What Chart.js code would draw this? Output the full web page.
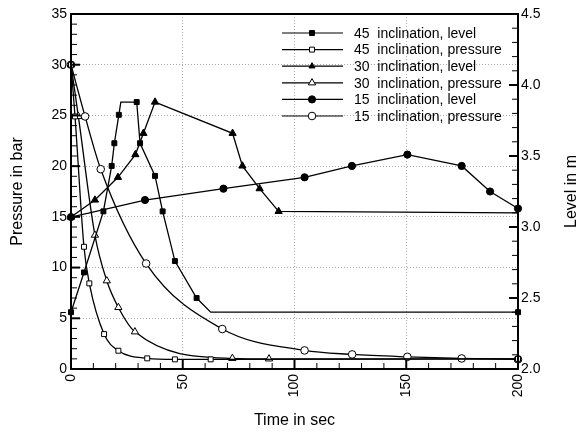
<!DOCTYPE html>
<html>
<head>
<meta charset="utf-8">
<script src="https://cdn.jsdelivr.net/npm/chart.js@4.4.0/dist/chart.umd.min.js"></script>
<style>
  html, body { margin: 0; padding: 0; background: #fff; }
  canvas { display: block; }
</style>
</head>
<body>
<canvas id="grafico" width="581" height="432"></canvas>
<script>
// Valores (tiempo en s, nivel en m, presión en bar)
const t45Nivel = [0, 5.8, 14.5, 18.2, 19.4, 21.4, 22.3, 29.4, 30.9, 37.6, 41, 46.5, 56.2, 62.5, 200];
const nivel45  = [2.40, 2.68, 3.11, 3.43, 3.59, 3.79, 3.88, 3.88, 3.59, 3.36, 3.11, 2.76, 2.50, 2.40, 2.40];

const t45Presion = [0, 1.8, 5.8, 8.2, 14.8, 21.2, 34.1, 46.5, 62.5, 200];
const presion45  = [30, 24.9, 12.05, 8.44, 3.44, 1.8, 1.05, 0.95, 0.95, 1.0];

const t30Nivel = [0, 10.7, 21.0, 28.8, 32.4, 37.6, 72.3, 76.7, 84.4, 92.9, 200];
const nivel30  = [3.07, 3.19, 3.35, 3.51, 3.66, 3.88, 3.66, 3.43, 3.27, 3.11, 3.10];

const t30Presion = [0, 3.3, 10.7, 16, 21.2, 28.6, 72.2, 88.6, 200];
const presion30  = [30, 24.9, 13.2, 8.7, 6.07, 3.67, 1.05, 1.0, 1.0];

const t15Nivel = [0, 33.1, 68.2, 104.5, 125.7, 150.5, 174.8, 187.5, 200];
const nivel15  = [3.07, 3.19, 3.27, 3.35, 3.43, 3.51, 3.43, 3.25, 3.13];

const t15Presion = [0, 6.3, 13.3, 33.6, 67.7, 104.5, 125.8, 150.5, 174.8, 200];
const presion15  = [30, 24.9, 19.7, 10.4, 3.94, 1.83, 1.44, 1.2, 1.04, 0.95];

const etiquetas = ['45  inclination, level', '45  inclination, pressure',
                   '30  inclination, level', '30  inclination, pressure',
                   '15  inclination, level', '15  inclination, pressure'];

// puntos sin marcador (esquinas de la curva)
const sinMarca45 = [6, 13];
const sinMarca30 = [10];

let puntos = (xs, ys) => xs.map((x, i) => ({x: x, y: ys[i]}));

Chart.defaults.font.family = "'Liberation Sans', Arial, sans-serif";
Chart.defaults.color = '#000';

let serie = (label, xs, ys, eje, estilo, relleno, radio, curva, ocultos) => ({
  label: label,
  data: puntos(xs, ys),
  yAxisID: eje,
  borderColor: '#000',
  borderWidth: 1.3,
  pointStyle: estilo,
  pointBackgroundColor: relleno ? '#000' : '#fff',
  pointBorderColor: '#000',
  pointBorderWidth: 1,
  pointRadius: ocultos ? (c => ocultos.includes(c.dataIndex) ? 0 : radio) : radio,
  cubicInterpolationMode: curva ? 'monotone' : 'default',
  tension: 0,
  clip: false,
  fill: false
});

const datasets = [
  serie(etiquetas[0], t45Nivel, nivel45, 'nivel', 'rect', true, 3.5, false, sinMarca45),
  serie(etiquetas[1], t45Presion, presion45, 'presion', 'rect', false, 3.5, true),
  serie(etiquetas[2], t30Nivel, nivel30, 'nivel', 'triangle', true, 4.2, false, sinMarca30),
  serie(etiquetas[3], t30Presion, presion30, 'presion', 'triangle', false, 4.2, true),
  serie(etiquetas[4], t15Nivel, nivel15, 'nivel', 'circle', true, 3.6, false),
  serie(etiquetas[5], t15Presion, presion15, 'presion', 'circle', false, 3.8, true)
];

// Marco, marcas hacia dentro, leyenda y título derecho
const extras = {
  id: 'extras',
  afterDraw(chart) {
    const {ctx, chartArea: a, scales} = chart;
    ctx.save();
    ctx.strokeStyle = '#000';

    let marcas = (escala, menor, cadaMayor, dibujar) => {
      let n = Math.round((escala.max - escala.min) / menor);
      for (let i = 0; i <= n; i++) {
        let p = escala.getPixelForValue(escala.min + i * menor);
        let mayor = i % cadaMayor === 0;
        ctx.lineWidth = mayor ? 2 : 1;
        ctx.beginPath();
        dibujar(p, mayor ? 9 : 6);
        ctx.stroke();
      }
    };
    marcas(scales.x, 10, 5, (p, l) => { ctx.moveTo(p, a.bottom); ctx.lineTo(p, a.bottom - l); });
    marcas(scales.presion, 1, 5, (p, l) => { ctx.moveTo(a.left, p); ctx.lineTo(a.left + l, p); });
    marcas(scales.nivel, 0.1, 5, (p, l) => { ctx.moveTo(a.right, p); ctx.lineTo(a.right - l, p); });

    ctx.lineWidth = 2;
    ctx.strokeRect(a.left, a.top, a.right - a.left, a.bottom - a.top);

    // leyenda
    let lx = a.left + 211, ly = a.top + 19, paso = 16.6;
    ctx.font = "14px 'Liberation Sans', Arial, sans-serif";
    ctx.textBaseline = 'middle';
    ctx.textAlign = 'left';
    chart.data.datasets.forEach((d, i) => {
      let y = ly + i * paso;
      ctx.lineWidth = 1.2;
      ctx.strokeStyle = '#000';
      ctx.beginPath();
      ctx.moveTo(lx, y);
      ctx.lineTo(lx + 61, y);
      ctx.stroke();
      ctx.fillStyle = d.pointBackgroundColor;
      ctx.lineWidth = 1;
      Chart.helpers.drawPoint(ctx, {pointStyle: d.pointStyle, radius: typeof d.pointRadius === 'number' ? d.pointRadius : 3.5, borderWidth: 1, rotation: 0}, lx + 30, y);
      ctx.fillStyle = '#000';
      ctx.fillText(d.label, lx + 72, y + 1);
    });

    // título del eje derecho
    ctx.font = "16px 'Liberation Sans', Arial, sans-serif";
    ctx.textAlign = 'center';
    ctx.translate(572, (a.top + a.bottom) / 2);
    ctx.rotate(-Math.PI / 2);
    ctx.fillText('Level in m', 0, 0);
    ctx.restore();
  }
};

const rejilla = {color: '#aaa', lineWidth: 1, drawTicks: false};
const borde = {display: false, dash: [1, 2]};

new Chart(document.getElementById('grafico'), {
  type: 'line',
  data: {datasets: datasets},
  options: {
    responsive: false,
    animation: false,
    layout: {padding: {top: 14, left: 0, right: 0, bottom: 0}},
    plugins: {legend: {display: false}, tooltip: {enabled: false}},
    scales: {
      x: {
        type: 'linear', min: 0, max: 200,
        afterFit: s => { s.height = 63; },
        border: borde,
        grid: rejilla,
        ticks: {stepSize: 50, minRotation: 90, maxRotation: 90, autoSkip: false, padding: 5,
                font: {size: 14}},
        title: {display: true, text: 'Time in sec', font: {size: 16}, padding: {top: 4, bottom: 2}}
      },
      presion: {
        type: 'linear', position: 'left', min: 0, max: 35,
        afterFit: s => { s.width = 71; },
        border: borde,
        grid: rejilla,
        ticks: {stepSize: 5, padding: 4, font: {size: 14}},
        title: {display: true, text: 'Pressure in bar', font: {size: 16}, padding: {top: 8, bottom: 4}}
      },
      nivel: {
        type: 'linear', position: 'right', min: 2, max: 4.5,
        afterFit: s => { s.width = 63; },
        border: {display: false},
        grid: {drawOnChartArea: false, drawTicks: false},
        ticks: {stepSize: 0.5, padding: 3, font: {size: 14}, callback: v => v.toFixed(1)}
      }
    }
  },
  plugins: [extras]
});
</script>
</body>
</html>
